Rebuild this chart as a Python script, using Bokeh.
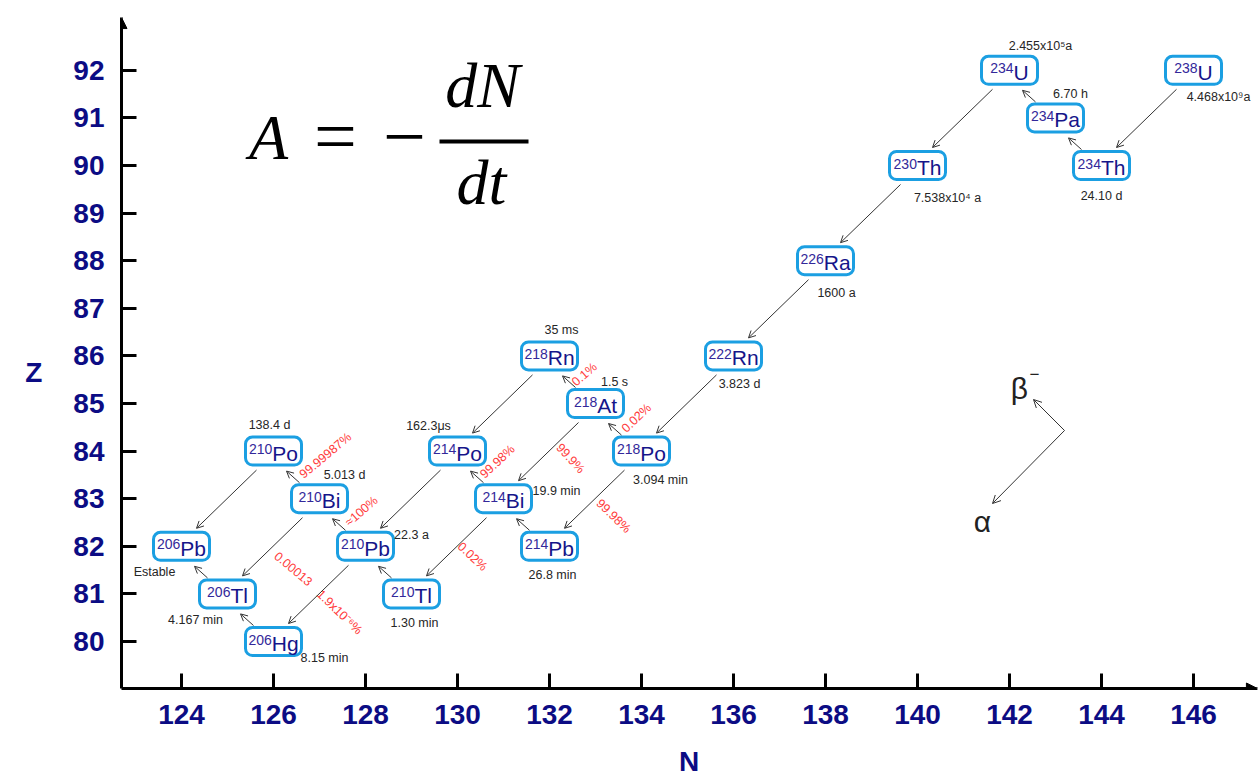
import math
from bokeh.plotting import figure
from bokeh.models import Range1d, FixedTicker, ColumnDataSource, Arrow, OpenHead, NormalHead
from bokeh.core.properties import value
from bokeh.embed import file_html
from bokeh.resources import INLINE

# ---------------- data ----------------
nuclide_mass = [238, 234, 234, 234, 230, 226, 222, 218, 218, 218, 214, 214, 214, 210, 210, 210, 210, 206, 206, 206]
nuclide_symbol = ["U", "Th", "Pa", "U", "Th", "Ra", "Rn", "Po", "At", "Rn", "Pb", "Bi", "Po", "Tl", "Pb", "Bi", "Po", "Hg", "Tl", "Pb"]
nuclide_z = [92, 90, 91, 92, 90, 88, 86, 84, 85, 86, 82, 83, 84, 81, 82, 83, 84, 80, 81, 82]
nuclide_n = [146, 144, 143, 142, 140, 138, 136, 134, 133, 132, 132, 131, 130, 129, 128, 127, 126, 126, 125, 124]
half_life = ["4.468x10⁹a", "24.10 d", "6.70 h", "2.455x10⁵a", "7.538x10⁴ a", "1600 a", "3.823 d",
             "3.094 min", "1.5 s", "35 ms", "26.8 min", "19.9 min", "162.3μs", "1.30 min", "22.3 a",
             "5.013 d", "138.4 d", "8.15 min", "4.167 min", "Estable"]

decay_from = ["238U", "234Th", "234Pa", "234U", "230Th", "226Ra", "222Rn", "218Po", "218Po", "218At", "218At",
              "218Rn", "214Pb", "214Bi", "214Bi", "214Po", "210Tl", "210Pb", "210Pb", "210Bi", "210Bi",
              "210Po", "206Hg", "206Tl"]
decay_to = ["234Th", "234Pa", "234U", "230Th", "226Ra", "222Rn", "218Po", "214Pb", "218At", "214Bi", "218Rn",
            "214Po", "214Bi", "214Po", "210Tl", "210Pb", "210Pb", "210Bi", "206Hg", "210Po", "206Tl",
            "206Pb", "206Tl", "206Pb"]
decay_mode = ["α", "β", "β", "α", "α", "α", "α", "α", "β", "α", "β", "α", "β", "β", "α", "α", "β", "β", "α",
              "β", "α", "α", "β", "β"]
branch_ratio = ["", "", "", "", "", "", "", "99.98%", "0.02%", "99.9%", "0.1%", "", "", "99.98%", "0.02%",
                "", "", "≈100%", "1.9x10⁻⁶%", "99.99987%", "0.00013", "", "", ""]

x_ticks = [124, 126, 128, 130, 132, 134, 136, 138, 140, 142, 144, 146]
y_ticks = [80, 81, 82, 83, 84, 85, 86, 87, 88, 89, 90, 91, 92]

# ---------------- layout / style ----------------
NAVY = "#0c0c84"
BOX = "#1b9fe2"
SANS = "Liberation Sans"
SERIF = "Liberation Serif"
PXN = 46.0      # pixels per neutron unit
PXZ = 47.6      # pixels per proton unit

# half-life label offsets (px, +x right, +y down) from box centre
hl_offset = {
    "238U": (25, 27), "234Th": (0, 30), "234Pa": (15, -24), "234U": (31, -24), "230Th": (30, 32),
    "226Ra": (11, 32), "222Rn": (6, 28), "218Po": (19, 29), "218At": (19, -22), "218Rn": (12, -26),
    "214Pb": (3, 29), "214Bi": (53, -8), "214Po": (-29, -25), "210Tl": (3, 29), "210Pb": (46, -11),
    "210Bi": (25, -24), "210Po": (-4, -26), "206Hg": (51, 16), "206Tl": (-32, 26), "206Pb": (-27, 26),
}
# branch label offsets from parent centre (px) and angle (deg)
br_offset = {
    ("210Bi", "210Po"): (6, -43, 40), ("210Pb", "210Bi"): (-4, -35, 41), ("210Bi", "206Tl"): (-26, 70, -40),
    ("210Pb", "206Hg"): (-26, 66, -44), ("214Bi", "214Po"): (-6, -37, 43), ("218At", "214Bi"): (-25, 55, -47),
    ("218At", "218Rn"): (-11, -29, 41), ("218Po", "218At"): (-5, -33, 44), ("218Po", "214Pb"): (-28, 65, -44),
    ("214Bi", "210Tl"): (-31, 58, -43),
}

CW = {"U": 0.722, "T": 0.611, "h": 0.556, "P": 0.667, "a": 0.556, "R": 0.722, "n": 0.556, "o": 0.556,
      "A": 0.667, "t": 0.278, "b": 0.556, "B": 0.667, "i": 0.222, "l": 0.222, "H": 0.722, "g": 0.556}
MASS_FS, SYM_FS = 14, 21

names = [f"{m}{s}" for m, s in zip(nuclide_mass, nuclide_symbol)]
idx = {n: i for i, n in enumerate(names)}

junction = []
for m, s in zip(nuclide_mass, nuclide_symbol):
    mw = len(str(m)) * 0.556 * MASS_FS
    sw = sum(CW.get(c, 0.6) for c in s) * SYM_FS
    junction.append((mw - sw) / 2.0)

src = ColumnDataSource(dict(
    N=nuclide_n, Z=nuclide_z, mass=[str(m) for m in nuclide_mass], sym=nuclide_symbol,
    jx=junction, hl=half_life,
    hdx=[hl_offset[n][0] for n in names], hdy=[hl_offset[n][1] for n in names],
))


def px2n(px):
    return 124 + (px - 181) / PXN


def py2z(py):
    return 80 + (641 - py) / PXZ


X0, X1 = px2n(121), px2n(1256)
Y0, Y1 = py2z(688), py2z(18)

p = figure(width=1258, height=780, x_range=Range1d(X0, X1), y_range=Range1d(Y0, Y1),
           output_backend="svg", toolbar_location=None,
           min_border_left=121, min_border_right=2, min_border_top=18, min_border_bottom=92)
p.grid.visible = False
p.outline_line_color = None
p.background_fill_color = "white"

for ax, ticks in ((p.xaxis, x_ticks), (p.yaxis, y_ticks)):
    ax.ticker = FixedTicker(ticks=ticks)
    ax.major_label_text_font = SANS
    ax.major_label_text_font_size = "28px"
    ax.major_label_text_font_style = "bold"
    ax.major_label_text_color = NAVY
    ax.major_tick_in = 15
    ax.major_tick_out = 0
    ax.major_tick_line_width = 3
    ax.major_tick_line_color = "black"
    ax.minor_tick_line_color = None
    ax.axis_line_width = 3
    ax.axis_line_color = "black"
    ax.axis_label_text_font = SANS
    ax.axis_label_text_font_size = "28px"
    ax.axis_label_text_font_style = "bold"
    ax.axis_label_text_color = NAVY
p.xaxis.major_label_standoff = 16
p.yaxis.major_label_standoff = 17
p.xaxis.axis_label = "N"
p.xaxis.axis_label_standoff = 19
p.yaxis.axis_label = "\nZ"
p.yaxis.axis_label_orientation = "horizontal"
p.yaxis.axis_label_standoff = 28

# axis arrow heads
p.add_layout(Arrow(end=NormalHead(size=11, fill_color="black", line_color="black"),
                   x_start=X0, y_start=Y1 - 0.2, x_end=X0, y_end=Y1 + 0.02, line_width=3, line_color="black"))
p.add_layout(Arrow(end=NormalHead(size=11, fill_color="black", line_color="black"),
                   x_start=X1 - 0.3, y_start=Y0, x_end=X1 + 0.02, y_end=Y0, line_width=3, line_color="black"))

# decay arrows
xs, ys, xe, ye = [], [], [], []
for f, t, m in zip(decay_from, decay_to, decay_mode):
    i, j = idx[f], idx[t]
    if m == "α":
        s_off, e_off = (-17, 19), (15, -18)
    else:
        s_off, e_off = (-20, -16), (13, 20)
    xs.append(nuclide_n[i] + s_off[0] / PXN)
    ys.append(nuclide_z[i] - s_off[1] / PXZ)
    xe.append(nuclide_n[j] + e_off[0] / PXN)
    ye.append(nuclide_z[j] - e_off[1] / PXZ)
asrc = ColumnDataSource(dict(xs=xs, ys=ys, xe=xe, ye=ye))
p.add_layout(Arrow(end=OpenHead(size=7, line_width=1, line_color="#333333"),
                   x_start="xs", y_start="ys", x_end="xe", y_end="ye", source=asrc,
                   line_width=1, line_color="#333333"))

# boxes
p.rect(x="N", y="Z", width=56, height=28, width_units="screen", height_units="screen",
       fill_color="white", line_color=BOX, line_width=3, border_radius=7, source=src)
p.text(x="N", y="Z", text="mass", x_offset="jx", y_offset=-2, text_align="right", text_baseline="middle",
       text_font=value(SANS), text_font_size=f"{MASS_FS}px", text_color="#33289a", source=src)
p.text(x="N", y="Z", text="sym", x_offset="jx", y_offset=2, text_align="left", text_baseline="middle",
       text_font=value(SANS), text_font_size=f"{SYM_FS}px", text_color="#15158a", source=src)

# half-lives
p.text(x="N", y="Z", text="hl", x_offset="hdx", y_offset="hdy", text_align="center", text_baseline="middle",
       text_font=value(SANS), text_font_size="12.5px", text_color="#262626", source=src)

# branch ratios
bx, by, bt, bdx, bdy, ba = [], [], [], [], [], []
for f, t, b in zip(decay_from, decay_to, branch_ratio):
    if not b:
        continue
    i = idx[f]
    dx, dy, ang = br_offset[(f, t)]
    bx.append(nuclide_n[i]); by.append(nuclide_z[i]); bt.append(b)
    bdx.append(dx); bdy.append(dy); ba.append(math.radians(ang))
p.text(x="x", y="y", text="t", x_offset="dx", y_offset="dy", angle="a", text_align="center",
       text_baseline="middle", text_font=value(SANS), text_font_size="12.5px", text_color="#ff3b3b",
       source=ColumnDataSource(dict(x=bx, y=by, t=bt, dx=bdx, dy=bdy, a=ba)))

# formula A = -dN/dt
p.text(x=[px2n(268)], y=[py2z(137)], text=["A"], text_align="center", text_baseline="middle",
       text_font=value(SERIF), text_font_style="italic", text_font_size="64px", text_color="black")
p.text(x=[px2n(335), px2n(404)], y=[py2z(135), py2z(136)], text=["=", "−"], text_align="center",
       text_baseline="middle", text_font=value(SERIF), text_font_size="76px", text_color="black")
p.segment(x0=[px2n(439)], y0=[py2z(141)], x1=[px2n(528)], y1=[py2z(141)], line_width=4, line_color="black")
p.text(x=[px2n(482), px2n(481)], y=[py2z(85), py2z(182)], text=["dN", "dt"], text_align="center",
       text_baseline="middle", text_font=value(SERIF), text_font_style="italic", text_font_size="64px",
       text_color="black")

# legend of decay directions
jn, jz = px2n(1064), py2z(430)
p.add_layout(Arrow(end=OpenHead(size=8, line_width=1, line_color="#333333"), x_start=jn, y_start=jz,
                   x_end=jn - 31 / PXN, y_end=jz + 31 / PXZ, line_width=1, line_color="#333333"))
p.add_layout(Arrow(end=OpenHead(size=8, line_width=1, line_color="#333333"), x_start=jn, y_start=jz,
                   x_end=jn - 72 / PXN, y_end=jz - 73 / PXZ, line_width=1, line_color="#333333"))
p.text(x=[px2n(1019), px2n(982)], y=[py2z(388), py2z(521)], text=["β", "α"], text_align="center",
       text_baseline="middle", text_font=value(SANS), text_font_size="30px", text_color="#222222")
p.text(x=[px2n(1034)], y=[py2z(373)], text=["−"], text_align="center", text_baseline="middle",
       text_font=value(SANS), text_font_size="17px", text_color="#222222")

open("out.html", "w").write(file_html(p, INLINE))
